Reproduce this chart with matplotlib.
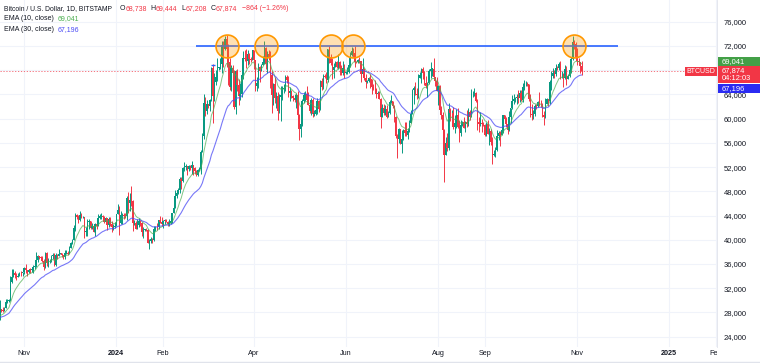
import numpy as np
import pandas as pd
import matplotlib
matplotlib.use("Agg")
import matplotlib.pyplot as plt
import matplotlib.dates as mdates
from matplotlib.patches import Rectangle
from matplotlib.lines import Line2D
from matplotlib.ticker import FuncFormatter
from matplotlib.transforms import Bbox, TransformedBbox

plt.rcParams['font.family'] = ['Liberation Sans', 'DejaVu Sans']

# closes before the first visible candle (2023-09-15 .. 2023-10-15), only used to warm up the EMAs
warmup_close = [26600, 26570, 26530, 26760, 27210, 27130, 26570, 26580, 26580, 26250, 26300, 26220,
                26370, 27030, 26910, 26970,
                27990, 27500, 27430, 27790, 27410, 27950, 27970, 27930, 27590, 27390, 26870, 26760,
                26860, 26860, 27160]

first_day = '2023-10-16'   # daily candles, open = previous close
close = [
    # Oct 2023 (16..31)
    28500, 28400, 28320, 28720, 29680, 29910, 29990, 33090, 33900, 34500, 34160, 33900, 34090, 34540, 34500, 34650,
    # Nov
    35420, 34940, 34730, 35080, 35040, 35040, 35430, 35650, 36700, 37300, 37130, 37060, 36500, 35550, 37880,
    36150, 36590, 36590, 37380, 37470, 35800, 37420, 37290, 37720, 37800, 37450, 37240, 37830, 37850, 37720,
    # Dec
    38690, 39470, 39980, 41980, 44080, 43780, 43290, 44170, 43720, 43790, 41250, 41450, 42890, 43020, 41930,
    42240, 41360, 42660, 42270, 43660, 43860, 43990, 43730, 43010, 43580, 42500, 43430, 42590, 42070, 42140, 42280,
    # Jan 2024
    44180, 44950, 42850, 44150, 44160, 43970, 43930, 46960, 46110, 46630, 46340, 42780, 42840, 41730, 42510,
    43150, 42740, 41270, 41620, 41660, 41550, 39500, 39840, 40090, 39930, 41820, 42120, 42030, 43300, 42950, 42580,
    # Feb
    43080, 43200, 43010, 42580, 42700, 43090, 44340, 45300, 47150, 47770, 48290, 49960, 49740, 51800, 51940,
    52140, 51650, 52130, 51780, 52280, 51850, 51320, 50730, 51570, 51730, 54500, 57050, 62500, 61200,
    # Mar
    62400, 62050, 63150, 68300, 63800, 66100, 66900, 68300, 68500, 69000, 72100, 71450, 73100, 71450, 69400,
    65300, 68400, 67600, 61900, 67900, 65500, 63800, 64100, 67200, 70000, 69900, 69450, 70750, 69900, 69650, 71300,
    # Apr
    69700, 65450, 65950, 68500, 67850, 68900, 69350, 71600, 69100, 70600, 70050, 67200, 63900, 65700, 63450,
    63800, 61300, 63500, 63850, 64950, 64950, 66850, 66400, 64300, 64500, 63750, 63450, 63100, 63850, 60650,
    # May
    58250, 59100, 62900, 63900, 64000, 63150, 62300, 61200, 63100, 60800, 60800, 61450, 62900, 61550, 66250,
    65250, 67050, 66950, 66300, 71450, 70150, 69150, 67950, 68550, 69300, 68500, 69400, 68350, 67600, 68350, 67500,
    # Jun
    67750, 67750, 68800, 70550, 71100, 70800, 69350, 69300, 69650, 69500, 67350, 68250, 66750, 66050, 66200,
    66650, 66500, 65150, 64950, 64850, 64100, 64250, 63200, 60300, 61800, 60850, 61600, 60350, 60950, 62700,
    # Jul
    62850, 62050, 60200, 57050, 56650, 58250, 55850, 56700, 58050, 57700, 57350, 57900, 59200, 60800, 64800,
    65050, 64100, 63950, 66700, 67150, 68150, 67550, 65950, 65350, 65800, 67900, 68250, 68250, 66800, 66200, 64600,
    # Aug
    65350, 61450, 60650, 58100, 54050, 56050, 55100, 61650, 60850, 60900, 58700, 59350, 60600, 58700, 57550,
    58900, 59450, 58450, 59450, 59050, 61150, 60350, 64150, 64200, 64200, 62850, 59450, 59050, 59350, 59100, 58950,
    # Sep
    57300, 59100, 57450, 58000, 56150, 53950, 54150, 54850, 57050, 57650, 57350, 58150, 60550, 60000, 59150,
    58200, 60300, 61750, 62950, 63200, 63350, 63600, 63350, 64250, 63150, 65150, 65800, 65850, 65650, 63300,
    # Oct
    60800, 60650, 60750, 62100, 62050, 62800, 62300, 62200, 60600, 60300, 62450, 63200, 62850, 66050, 67050,
    67600, 67400, 68400, 68350, 69000, 67350, 67400, 66650, 68200, 66600, 67000, 67950, 69900, 72700, 72300, 70250,
    # Nov 2024 (1..4)
    69500, 69350, 68738, 67874,
]
high = [
    30000, 28600, 28950, 28900, 30200, 30300, 30200, 34000, 35200, 35100, 34800, 34500, 34500, 34750, 34850, 34700,
    35580, 35980, 34950, 35250, 35380, 35290, 35900, 35980, 37950, 37500, 37400, 37250, 37380, 36750, 37950,
    37950, 36950, 36850, 37500, 37750, 37750, 37850, 37650, 38400, 37900, 37800, 37550, 38350, 38350, 38150,
    38950, 39650, 40150, 42400, 44400, 44300, 44050, 44700, 44350, 44000, 43800, 42050, 43400, 43400, 43100,
    42700, 42450, 42750, 43450, 44250, 44250, 44400, 44050, 43950, 43800, 43620, 43680, 43800, 43150, 42600, 42880,
    44200, 45900, 45500, 44750, 44400, 44450, 44500, 47200, 47900, 47650, 48950, 46500, 43250, 43050, 43350,
    43550, 43200, 42900, 42150, 41850, 41900, 41700, 40100, 40500, 40250, 42200, 42200, 42800, 43300, 43850, 43700,
    43250, 43480, 43380, 43100, 43500, 43400, 44400, 45600, 48200, 48150, 48550, 50350, 50350, 52000, 52800,
    52550, 52200, 52300, 52400, 52950, 52350, 52000, 51500, 51700, 51950, 54900, 57550, 64000, 63650,
    63150, 62450, 63250, 68500, 69100, 67600, 67950, 69950, 68600, 70000, 72800, 72850, 73650, 73800, 72400,
    70000, 68900, 68900, 68100, 68100, 68200, 66600, 65950, 67600, 71200, 71400, 71500, 71350, 70900, 70200, 71350,
    71300, 69700, 66900, 69250, 68700, 69000, 70300, 72750, 71750, 71150, 71250, 71200, 67900, 65800, 66850,
    64350, 64450, 64100, 65400, 65400, 65650, 67200, 67150, 67050, 65250, 64800, 63900, 64000, 64150, 64550,
    60800, 59600, 63300, 64450, 64500, 65450, 64350, 62950, 63400, 63450, 61450, 61800, 63400, 63100, 66450,
    66700, 67400, 67400, 67650, 71500, 71950, 70600, 70050, 69250, 69550, 69500, 70600, 69550, 68900, 69500, 69000,
    67850, 68450, 70250, 71000, 71750, 71650, 71950, 69550, 69900, 70150, 69550, 69950, 68400, 67300, 66400,
    66950, 67300, 66500, 65700, 66450, 65050, 64550, 64500, 63350, 62400, 62450, 62300, 62200, 61200, 63050,
    63850, 62950, 62250, 60450, 57500, 58450, 58350, 58200, 58300, 59450, 59400, 58500, 59850, 61450, 64900,
    65350, 66100, 65100, 67400, 67650, 68350, 68450, 67800, 67050, 66100, 68200, 69400, 68300, 70050, 66950, 66800,
    65600, 65600, 62150, 61050, 58300, 57000, 57700, 62600, 61750, 61450, 61850, 60650, 61550, 61750, 59800,
    59800, 59650, 60250, 59600, 61400, 61800, 61400, 64950, 64500, 65000, 64450, 63200, 60200, 61150, 59900, 59450,
    59050, 59400, 59800, 58500, 58300, 56950, 54850, 55300, 58100, 58000, 57950, 58550, 60650, 60600, 60350,
    59200, 61300, 61800, 63850, 64100, 63550, 64000, 64700, 64800, 64800, 65800, 66450, 66250, 66050, 65600,
    64100, 62400, 61450, 62450, 62350, 62950, 64450, 63150, 62550, 61300, 63350, 63450, 63250, 66450, 67900,
    68400, 67950, 68950, 68650, 69400, 69500, 67800, 67450, 68800, 68750, 67400, 68250, 70250, 73600, 72950, 72700,
    71600, 69950, 69350, 69444,
]
low = [
    26800, 28100, 28100, 28200, 28700, 29500, 29700, 29900, 32900, 33800, 33700, 33400, 33800, 33950, 34100, 34050,
    34300, 34500, 34100, 34600, 34550, 34750, 34550, 35100, 35550, 36350, 36750, 36700, 36350, 34950, 35400,
    35700, 35550, 36250, 36400, 36750, 35700, 35650, 36900, 37250, 37600, 37200, 36750, 36900, 37650, 37500,
    37600, 38650, 39300, 39980, 41450, 43400, 42850, 43050, 43600, 43600, 40300, 40700, 40650, 41800, 41700,
    41700, 41250, 40550, 41850, 42200, 43350, 43450, 43350, 42800, 42750, 41650, 42100, 42300, 41300, 41550, 41960,
    42200, 44200, 40750, 42650, 42650, 43450, 43600, 43200, 44350, 44700, 45600, 41500, 42450, 41700, 41700,
    42050, 42200, 40650, 40300, 41450, 41450, 39450, 38550, 39500, 39550, 39850, 41400, 41650, 41800, 42700, 42300,
    41900, 42600, 42900, 42300, 42300, 42600, 42800, 44350, 45250, 46900, 47550, 47700, 48350, 49600, 51300,
    51600, 50650, 51300, 51600, 50850, 50700, 50900, 50550, 50600, 51300, 50900, 54450, 56700, 60400,
    60800, 61700, 61300, 62900, 59200, 62900, 65600, 66150, 68000, 68250, 67500, 68600, 71350, 68600, 65600,
    64800, 64600, 66600, 61550, 60800, 64550, 62300, 63050, 63650, 66600, 69500, 68400, 68900, 69100, 69400, 69600,
    68200, 64550, 64500, 65100, 66000, 67800, 68800, 69100, 68250, 67550, 69600, 65100, 61000, 62300, 62500,
    61750, 59700, 60850, 59650, 63150, 64300, 64550, 65900, 63550, 62850, 63350, 62850, 62800, 61800, 59200,
    56550, 56950, 58800, 62600, 62950, 62850, 62200, 60900, 60650, 60300, 60500, 60650, 60800, 61150, 61350,
    64700, 64900, 66650, 65850, 66100, 69200, 68900, 66600, 66700, 68550, 68400, 68250, 67250, 67150, 67150, 66650,
    67400, 67300, 67600, 68550, 70400, 70150, 68500, 69200, 69150, 69250, 66100, 66950, 66300, 65100, 65900,
    66050, 65100, 64100, 64700, 64500, 63400, 63950, 63200, 58450, 60600, 60650, 60600, 60050, 60350, 60750,
    62500, 61800, 59450, 56800, 53550, 56050, 55800, 54300, 56500, 57200, 57100, 56600, 57800, 59300, 60700,
    62450, 63900, 63300, 63350, 66650, 65850, 66550, 65550, 65100, 63500, 65750, 66750, 67050, 66550, 65350, 64550,
    62300, 61250, 59900, 57300, 49500, 53950, 54600, 54800, 59550, 60300, 58300, 57650, 58500, 58400, 56150,
    57100, 58800, 58450, 57850, 58600, 58800, 59800, 60350, 63600, 63700, 62800, 58150, 57850, 58750, 57750, 58750,
    57150, 57150, 57450, 55600, 55650, 52550, 53750, 53650, 54600, 56400, 55550, 57350, 57650, 59550, 58700,
    57500, 57950, 59200, 61550, 62400, 62750, 62400, 62600, 62700, 62950, 62700, 64800, 65450, 65450, 62850,
    60200, 59850, 59900, 60500, 61650, 61850, 62150, 61850, 60350, 58900, 60100, 62400, 62050, 62450, 64800,
    66750, 66700, 67100, 67950, 68100, 66600, 66700, 65300, 66550, 65600, 66550, 66800, 67550, 69700, 71450, 69700,
    68800, 68850, 67500, 67208,
]

# resistance line + touches
res_level = 72000
res_start, res_end = '2024-02-23', '2024-11-28'
touch_dates = ['2024-03-14', '2024-04-09', '2024-05-22', '2024-06-06', '2024-10-30']
dash_level, dash_start, dash_end = 68800, '2024-03-03 14:00', '2024-03-06 16:00'

month_ticks = ['2023-11-01', '2024-01-01', '2024-02-01', '2024-04-01', '2024-06-01',
               '2024-08-01', '2024-09-01', '2024-11-01', '2025-01-01', '2025-02-01']
month_labels = ['Nov', '2024', 'Feb', 'Apr', 'Jun', 'Aug', 'Sep', 'Nov', '2025', 'Feb']
price_ticks = list(range(24000, 76001, 4000))
hidden_tick = 68000   # sits behind the last-price box

ema10_last, ema30_last = 69041, 67196
ema10_txt, ema30_txt = '69,041', '67,196'
ohlc_txt = ['68,738', '69,444', '67,208', '67,874']
chg_txt = '\u2212864 (\u22121.26%)'
timer_txt = '04:12:03'

W, H = 760, 363
UP, DOWN = '#089981', '#f23645'
TXT = '#131722'
EMA10_C, EMA30_C = '#4caf50', '#4b4bf5'

dates = pd.date_range(first_day, periods=len(close), freq='D')
x = mdates.date2num(dates)
c = np.array(close, float)
o = np.array([warmup_close[-1]] + close[:-1], float)
hi = np.maximum(np.array(high, float), np.maximum(o, c))
lo = np.minimum(np.array(low, float), np.minimum(o, c))

full = pd.Series(warmup_close + close, dtype=float)
ema10 = full.ewm(span=10, adjust=False).mean().values[len(warmup_close):]
ema30 = full.ewm(span=30, adjust=False).mean().values[len(warmup_close):]

fig = plt.figure(figsize=(W / 100, H / 100), dpi=100)
ax = fig.add_axes([0, 16.5 / H, 717 / W, 1 - 16.5 / H])

t0 = mdates.date2num(pd.Timestamp('2023-11-01'))
ax.set_xlim(t0 - 15.9, t0 + 458.6)
ax.set_ylim(22385, 79582)

cols = np.where(c >= o, UP, DOWN)
ax.vlines(x, lo, hi, colors=cols, lw=0.7, zorder=3)
ax.bar(x, np.maximum(np.abs(c - o), 80), bottom=np.minimum(o, c), width=0.9,
       color=cols, lw=0, zorder=3)

ax.plot(x, ema10, color=EMA10_C, lw=0.7, alpha=0.7, zorder=4)
ax.plot(x, ema30, color=EMA30_C, lw=0.8, alpha=0.75, zorder=4)

ax.axhline(c[-1], color=DOWN, lw=0.6, ls=(0, (1.5, 2)), alpha=0.8, zorder=2)

ax.hlines(res_level, mdates.date2num(pd.Timestamp(res_start)), mdates.date2num(pd.Timestamp(res_end)),
          color='#2962ff', lw=1.2, zorder=5)
ax.hlines(dash_level, mdates.date2num(pd.Timestamp(dash_start)), mdates.date2num(pd.Timestamp(dash_end)),
          color='#2962ff', lw=1.0, zorder=5)
ax.plot(mdates.date2num(pd.to_datetime(touch_dates)), [res_level] * len(touch_dates), 'o',
        ms=16.5, mfc=(1, 0.6, 0, 0.3), mec='#ff9800', mew=1.2, zorder=6)

# axes / grid
ax.set_xticks(mdates.date2num(pd.to_datetime(month_ticks)))
ax.set_xticklabels(month_labels)
for t in ax.get_xticklabels():
    if t.get_text().isdigit():
        t.set_fontweight('bold')
ax.get_xticklabels()[-1].set_clip_box(TransformedBbox(Bbox([[0, 0], [717 / W, 1]]), fig.transFigure))
ax.get_xticklabels()[-1].set_clip_on(True)
ax.set_yticks(price_ticks)
ax.yaxis.set_major_formatter(FuncFormatter(lambda v, p: '' if v == hidden_tick else f'{v:,.0f}'))
ax.yaxis.tick_right()
ax.tick_params(axis='x', length=0, pad=2.5, labelsize=5.2, labelcolor=TXT)
ax.tick_params(axis='y', length=0, pad=5, labelsize=5.5, labelcolor=TXT)
ax.grid(True, color='#f0f3fa', lw=0.8)
ax.set_axisbelow(True)
for s in ['left', 'top', 'bottom']:
    ax.spines[s].set_visible(False)
ax.spines['right'].set_color('#e0e3eb')
ax.spines['right'].set_linewidth(0.6)


def ypx(v):
    return ax.transData.transform((0, v))[1]


def price_box(value, lines, bg, dy, h):
    # dy > 0 moves the box down (away from its value) so the labels don't collide
    yc = ypx(value) - dy
    fig.add_artist(Rectangle((718 / W, (yc - h / 2) / H), 42 / W, h / H, transform=fig.transFigure,
                             facecolor=bg, lw=0, zorder=10))
    n = len(lines)
    for i, s in enumerate(lines):
        yy = yc + (n - 1) * 4 - i * 8
        fig.text(722 / W, yy / H, s, color='white', fontsize=5.4, va='center', ha='left', zorder=11)


price_box(ema10_last, [ema10_txt], '#43a047', -2.6, 9.5)
price_box(c[-1], [ohlc_txt[3], timer_txt], DOWN, 3.8, 17)
price_box(ema30_last, [ema30_txt], '#2b2bf2', 13.6, 9.5)

yc = ypx(c[-1]) - 0.5
fig.add_artist(Rectangle((685 / W, (yc - 4.5) / H), 32 / W, 9 / H, transform=fig.transFigure,
                         facecolor=DOWN, lw=0, zorder=10))
fig.text(701 / W, yc / H, 'BTCUSD', color='white', fontsize=5.0, va='center', ha='center', zorder=11)

# header legend
renderer = fig.canvas.get_renderer()


def pieces(x0, y_top, parts, size=5.0):
    xx = x0
    for s, col in parts:
        t = fig.text(xx / W, 1 - y_top / H, s, color=col, fontsize=size, va='center', ha='left')
        xx = t.get_window_extent(renderer=renderer).x1


pieces(4, 9, [('Bitcoin / U.S. Dollar, 1D, BITSTAMP', TXT)], size=4.85)
pieces(120, 9, [('O', TXT), (ohlc_txt[0], DOWN), ('  H', TXT), (ohlc_txt[1], DOWN),
                ('  L', TXT), (ohlc_txt[2], DOWN), ('  C', TXT), (ohlc_txt[3], DOWN),
                ('  ' + chg_txt, DOWN)])
pieces(4, 19, [('EMA (10, close)  ', TXT), (ema10_txt, EMA10_C)])
pieces(4, 29.5, [('EMA (30, close)  ', TXT), (ema30_txt, EMA30_C)])

fig.add_artist(Line2D([0, 1], [0.6 / H, 0.6 / H], color='#e0e3eb', lw=1, transform=fig.transFigure))

fig.savefig('out.png', dpi=100)
